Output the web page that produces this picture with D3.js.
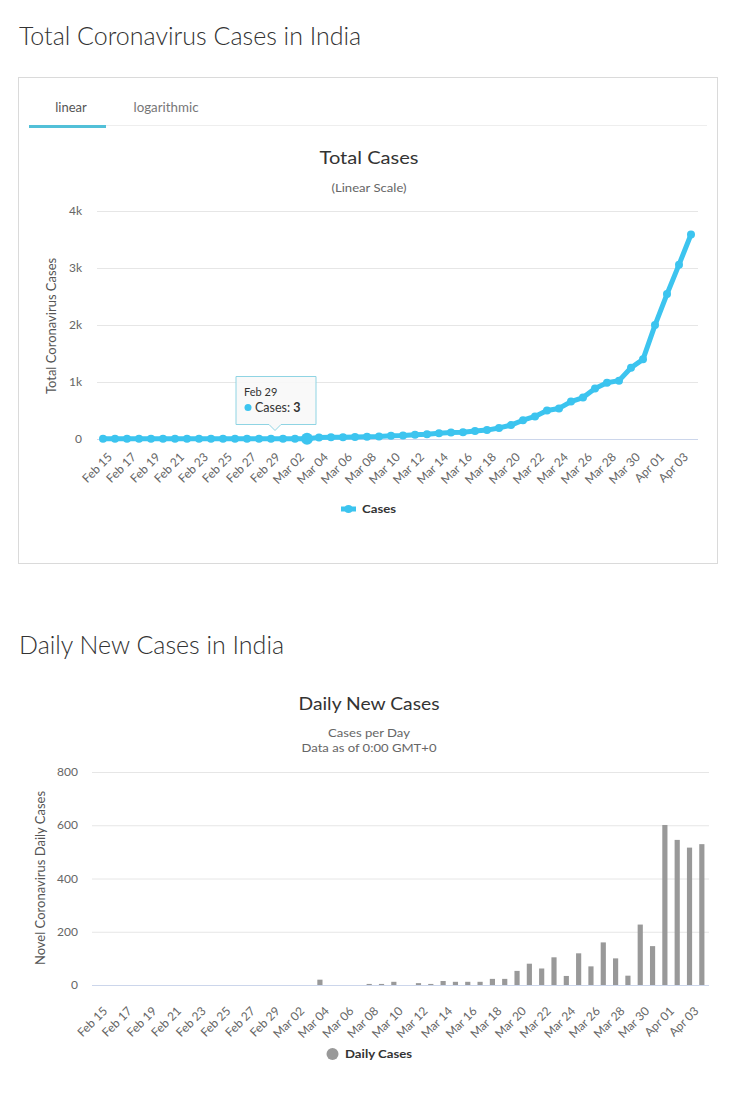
<!DOCTYPE html>
<html><head><meta charset="utf-8">
<script src="https://cdn.jsdelivr.net/npm/d3@7"></script>
<style>
html,body{margin:0;padding:0;background:#fff;}
svg{display:block;font-family:Lato,"Open Sans",sans-serif;}
</style></head>
<body>
<svg id="c" width="730" height="1103"></svg>
<script>
// ---------- DATA ----------
const dates = ["Feb 15","Feb 16","Feb 17","Feb 18","Feb 19","Feb 20","Feb 21","Feb 22","Feb 23","Feb 24","Feb 25","Feb 26","Feb 27","Feb 28","Feb 29",
"Mar 01","Mar 02","Mar 03","Mar 04","Mar 05","Mar 06","Mar 07","Mar 08","Mar 09","Mar 10","Mar 11","Mar 12","Mar 13","Mar 14","Mar 15","Mar 16","Mar 17","Mar 18","Mar 19","Mar 20","Mar 21","Mar 22","Mar 23","Mar 24","Mar 25","Mar 26","Mar 27","Mar 28","Mar 29","Mar 30","Mar 31",
"Apr 01","Apr 02","Apr 03","Apr 04"];
const totalCases = [3,3,3,3,3,3,3,3,3,3,3,3,3,3,3,
3,5,6,28,30,31,34,39,43,56,62,73,82,102,113,119,142,156,194,244,330,396,499,536,657,727,887,987,1024,1251,1397,
1998,2543,3059,3588];
const dailyCases = [0,0,0,0,0,0,0,0,0,0,0,0,0,0,0,
0,0,0,20,0,0,0,4,4,12,0,7,4,15,12,12,12,23,23,53,80,62,104,34,119,70,160,100,35,227,146,
601,545,516,529];
const totalTicks = [0,1000,2000,3000,4000];
const dailyTicks = [0,200,400,600,800];
const tooltipIndex = 14;   // Feb 29
const hoverIndex = 17;

const svg = d3.select("#c");
const BLUE = "#3cc4ef";
const GRID = "#e6e6e6";
const AXIS = "#ccd6eb";
const LABEL = "#666";

function fit(sel, w){
  const n = sel.node();
  const L = n.getComputedTextLength();
  if (Math.abs(L - w) / w > 0.02) sel.attr("textLength", w).attr("lengthAdjust", "spacingAndGlyphs");
  return sel;
}

// ---------- SECTION 1 ----------
fit(svg.append("text").attr("x", 19).attr("y", 45).attr("font-size", 25).attr("font-weight", 300).attr("fill", "#333")
  .text("Total Coronavirus Cases in India"), 348);

svg.append("rect").attr("x", 18.5).attr("y", 77.5).attr("width", 699).attr("height", 486)
  .attr("fill", "#fff").attr("stroke", "#dadada");

// tabs
svg.append("line").attr("x1", 29).attr("x2", 707).attr("y1", 125.5).attr("y2", 125.5).attr("stroke", "#eeeeee");
svg.append("rect").attr("x", 29).attr("y", 125).attr("width", 77).attr("height", 3).attr("fill", "#52c0d8");
fit(svg.append("text").attr("x", 71).attr("y", 112).attr("text-anchor", "middle").attr("font-size", 13).attr("fill", "#555").text("linear"), 32);
fit(svg.append("text").attr("x", 166).attr("y", 112).attr("text-anchor", "middle").attr("font-size", 13).attr("fill", "#777").text("logarithmic"), 65);

// titles
fit(svg.append("text").attr("x", 369).attr("y", 164).attr("text-anchor", "middle").attr("font-size", 18).attr("fill", "#333").text("Total Cases"), 99);
fit(svg.append("text").attr("x", 369).attr("y", 192).attr("text-anchor", "middle").attr("font-size", 12).attr("fill", "#666").text("(Linear Scale)"), 75);

const x1 = d3.scalePoint().domain(dates).range([97, 697]).padding(0.5);
const y1 = d3.scaleLinear().domain([0, 4000]).range([439, 211]);

const g1 = svg.append("g");
g1.selectAll("line.grid").data(totalTicks.filter(d => d > 0)).join("line")
  .attr("x1", 97).attr("x2", 698).attr("y1", d => y1(d) + 0.5).attr("y2", d => y1(d) + 0.5)
  .attr("stroke", GRID);
g1.append("line").attr("x1", 97).attr("x2", 698).attr("y1", y1(0) + 0.5).attr("y2", y1(0) + 0.5).attr("stroke", AXIS);

g1.selectAll("text.yl").data(totalTicks).join("text")
  .attr("x", 82).attr("y", d => y1(d)).attr("dy", "0.35em").attr("text-anchor", "end")
  .attr("font-size", 12).attr("fill", LABEL).text(d => d === 0 ? "0" : (d / 1000) + "k");

svg.append("text").attr("transform", "translate(56,326) rotate(-90)").attr("text-anchor", "middle")
  .attr("font-size", 13).attr("fill", "#555").text("Total Coronavirus Cases");

g1.selectAll("text.xl").data(dates.filter((d, i) => i % 2 === 0)).join("text")
  .attr("transform", d => `translate(${x1(d) + 4},${452}) rotate(-45)`)
  .attr("text-anchor", "end").attr("dy", "0.7em").attr("font-size", 12).attr("fill", LABEL).text(d => d);

const line1 = d3.line().x((d, i) => x1(dates[i])).y(d => y1(d));
g1.append("path").datum(totalCases).attr("d", line1).attr("fill", "none")
  .attr("stroke", BLUE).attr("stroke-width", 5).attr("stroke-linejoin", "round").attr("stroke-linecap", "round");
g1.selectAll("circle.pt").data(totalCases).join("circle")
  .attr("cx", (d, i) => x1(dates[i])).attr("cy", d => y1(d))
  .attr("r", (d, i) => i === hoverIndex ? 6 : 4).attr("fill", BLUE);

// tooltip
{
  const px = x1(dates[tooltipIndex]) + 4, py = y1(totalCases[tooltipIndex]);
  const L = px - 39, R = px + 41, T = 376.5, B = 424.5;
  const path = `M${L},${T} H${R} V${B} H${px + 6} L${px},${B + 6} L${px - 6},${B} H${L} Z`;
  svg.append("path").attr("d", path).attr("fill", "rgba(248,248,248,0.9)").attr("stroke", "#8fd4e3").attr("stroke-width", 1);
  svg.append("text").attr("x", L + 8).attr("y", 396).attr("font-size", 11).attr("fill", "#333").text(dates[tooltipIndex]);
  svg.append("circle").attr("cx", L + 12).attr("cy", 407.5).attr("r", 3.5).attr("fill", BLUE);
  const t = svg.append("text").attr("x", L + 19).attr("y", 412).attr("font-size", 12.5).attr("fill", "#333");
  t.append("tspan").text("Cases: ");
  t.append("tspan").attr("font-weight", "bold").text(totalCases[tooltipIndex]);
}

// legend 1
svg.append("line").attr("x1", 341).attr("x2", 356).attr("y1", 509).attr("y2", 509).attr("stroke", BLUE).attr("stroke-width", 5);
svg.append("circle").attr("cx", 348.5).attr("cy", 509).attr("r", 4).attr("fill", BLUE);
fit(svg.append("text").attr("x", 362).attr("y", 513).attr("font-size", 12).attr("font-weight", "bold").attr("fill", "#333").text("Cases"), 34);

// ---------- SECTION 2 ----------
fit(svg.append("text").attr("x", 19).attr("y", 654).attr("font-size", 25).attr("font-weight", 300).attr("fill", "#333")
  .text("Daily New Cases in India"), 268);

fit(svg.append("text").attr("x", 369).attr("y", 710).attr("text-anchor", "middle").attr("font-size", 18).attr("fill", "#333").text("Daily New Cases"), 141);
fit(svg.append("text").attr("x", 369).attr("y", 737).attr("text-anchor", "middle").attr("font-size", 12).attr("fill", "#666").text("Cases per Day"), 82);
fit(svg.append("text").attr("x", 369).attr("y", 752).attr("text-anchor", "middle").attr("font-size", 12).attr("fill", "#666").text("Data as of 0:00 GMT+0"), 135);

const x2 = d3.scaleBand().domain(dates).range([92, 708]).paddingInner(0.58).paddingOuter(0.29);
const y2 = d3.scaleLinear().domain([0, 800]).range([985, 772]);

const g2 = svg.append("g");
g2.selectAll("line.grid").data(dailyTicks.filter(d => d > 0)).join("line")
  .attr("x1", 92).attr("x2", 709).attr("y1", d => y2(d) + 0.5).attr("y2", d => y2(d) + 0.5).attr("stroke", GRID);
g2.selectAll("text.yl").data(dailyTicks).join("text")
  .attr("x", 78).attr("y", d => y2(d)).attr("dy", "0.35em").attr("text-anchor", "end")
  .attr("font-size", 12).attr("fill", LABEL).text(d => d);
svg.append("text").attr("transform", "translate(45,878) rotate(-90)").attr("text-anchor", "middle")
  .attr("font-size", 13).attr("fill", "#555").text("Novel Coronavirus Daily Cases");

g2.selectAll("rect.bar").data(dailyCases).join("rect")
  .attr("x", (d, i) => x2(dates[i])).attr("width", x2.bandwidth())
  .attr("y", d => y2(d)).attr("height", d => y2(0) - y2(d)).attr("fill", "#999");
g2.append("line").attr("x1", 92).attr("x2", 709).attr("y1", y2(0) + 0.5).attr("y2", y2(0) + 0.5).attr("stroke", AXIS);

g2.selectAll("text.xl").data(dates.filter((d, i) => i % 2 === 0)).join("text")
  .attr("transform", d => `translate(${x2(d) + x2.bandwidth() / 2 + 4},${1006}) rotate(-45)`)
  .attr("text-anchor", "end").attr("dy", "0.7em").attr("font-size", 12).attr("fill", LABEL).text(d => d);

// legend 2
svg.append("circle").attr("cx", 332.5).attr("cy", 1054).attr("r", 6).attr("fill", "#999");
fit(svg.append("text").attr("x", 345).attr("y", 1058).attr("font-size", 12).attr("font-weight", "bold").attr("fill", "#333").text("Daily Cases"), 67);
</script>
</body></html>
